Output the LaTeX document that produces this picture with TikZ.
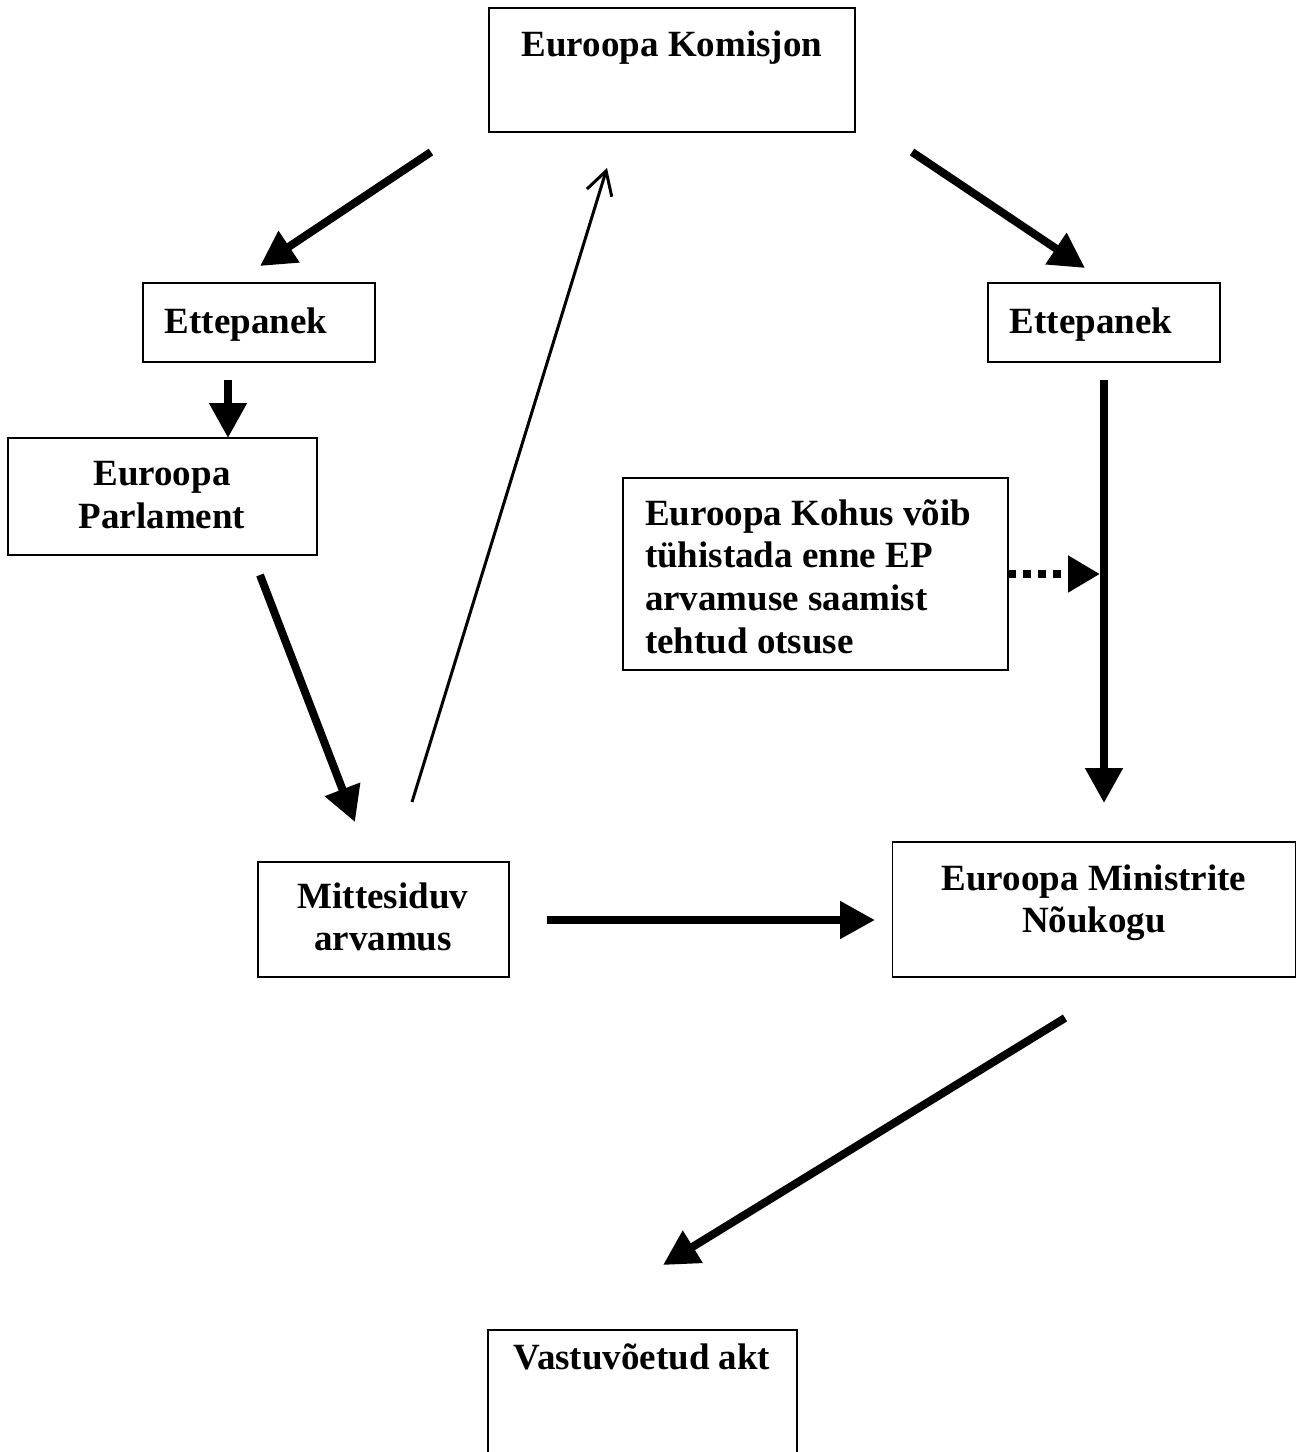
\documentclass[tikz,border=0pt]{standalone}
\usepackage{fontspec}
\setmainfont{Liberation Serif}
\usetikzlibrary{arrows.meta}
\begin{document}
\begin{tikzpicture}[x=1pt,y=-1pt,
  box/.style={draw, line width=1.6pt, inner sep=0pt, outer sep=0pt},
  lbl/.style={inner sep=0pt, outer sep=0pt, font=\bfseries\fontsize{37}{43}\selectfont},
  thickarrow/.style={line width=8pt, -{Triangle[length=35pt,width=36pt]}},
  thinarrow/.style={line width=3pt, -{Straight Barb[length=23pt,width=26pt]}},
  dotarrow/.style={line width=8pt, dash pattern=on 8pt off 7pt, -{Triangle[length=32pt,width=35pt]}}
]
\clip (0,0) rectangle (1297,1452);
\fill[white] (0,0) rectangle (1297,1452);

% boxes
\node[box, minimum width=366pt, minimum height=124pt] (kom) at (672,70) {};
\node[box, minimum width=232pt, minimum height=79pt] (ettl) at (259,322.5) {};
\node[box, minimum width=232pt, minimum height=79pt] (ettr) at (1104,322.5) {};
\node[box, minimum width=309pt, minimum height=117pt] (ep) at (162.5,496.5) {};
\node[box, minimum width=385pt, minimum height=192pt] (koh) at (815.5,574) {};
\node[box, minimum width=251pt, minimum height=115pt] (mit) at (383.5,919.5) {};
\node[box, minimum width=403pt, minimum height=135pt] (min) at (1094,909.5) {};
\node[box, minimum width=309pt, minimum height=150pt] (vas) at (642.5,1405) {};

% texts
\node[lbl, anchor=base] (komt) at (672,56) {Euroopa Komisjon};
\node[lbl, anchor=base] (ettlt) at (246,333) {Ettepanek};
\node[lbl, anchor=base] (ettrt) at (1091,333) {Ettepanek};
\node[lbl, anchor=base] (ept1) at (162,485) {Euroopa};
\node[lbl, anchor=base] (ept2) at (162,528) {Parlament};
\node[lbl, anchor=base west] (koht1) at (645,525) {Euroopa Kohus võib};
\node[lbl, anchor=base west] (koht2) at (645,567) {tühistada enne EP};
\node[lbl, anchor=base west] (koht3) at (645,610) {arvamuse saamist};
\node[lbl, anchor=base west] (koht4) at (645,653) {tehtud otsuse};
\node[lbl, anchor=base] (mitt1) at (383,908) {Mittesiduv};
\node[lbl, anchor=base] (mitt2) at (383,950) {arvamus};
\node[lbl, anchor=base] (mint1) at (1094,890) {Euroopa Ministrite};
\node[lbl, anchor=base] (mint2) at (1094,932) {Nõukogu};
\node[lbl, anchor=base] (vast) at (642,1369) {Vastuvõetud akt};

% arrow end points
\coordinate (a1s) at (431,152);  \coordinate (a1e) at (260,266);
\coordinate (a2s) at (228,380);  \coordinate (a2e) at (228,438);
\coordinate (a3s) at (260,575);  \coordinate (a3e) at (355,822);
\coordinate (a4s) at (412,802);  \coordinate (a4e) at (607,168);
\coordinate (a5s) at (912,152);  \coordinate (a5e) at (1085,268);
\coordinate (a6s) at (1104,380); \coordinate (a6e) at (1104,803);
\coordinate (a7s) at (1008,574); \coordinate (a7e) at (1100,574);
\coordinate (a8s) at (547,920);  \coordinate (a8e) at (875,920);
\coordinate (a9s) at (1065,1018); \coordinate (a9e) at (663,1265);

\draw[thickarrow] (a1s) -- (a1e);
\draw[thickarrow] (a2s) -- (a2e);
\draw[thickarrow] (a3s) -- (a3e);
\draw[thinarrow] (a4s) -- (a4e);
\draw[thickarrow] (a5s) -- (a5e);
\draw[thickarrow] (a6s) -- (a6e);
\draw[dotarrow] (a7s) -- (a7e);
\draw[thickarrow] (a8s) -- (a8e);
\draw[thickarrow] (a9s) -- (a9e);
\end{tikzpicture}
\end{document}
